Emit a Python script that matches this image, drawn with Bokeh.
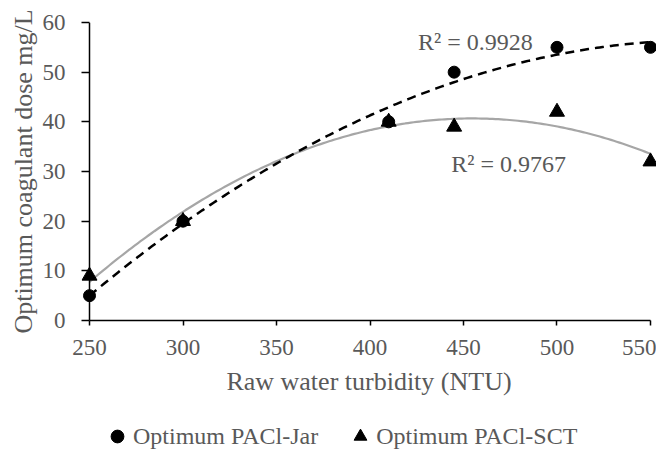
import numpy as np
from bokeh.plotting import figure
from bokeh.layouts import column
from bokeh.models import Range1d, SingleIntervalTicker, Legend, LegendItem, Label, ColumnDataSource, Span
from bokeh.embed import file_html
from bokeh.resources import INLINE

turbidity = [250, 300, 410, 445, 500, 550]
dose_jar = [5, 20, 40, 50, 55, 55]
dose_sct = [9, 20, 40, 39, 42, 32]
series_names = ["Optimum PACl-Jar", "Optimum PACl-SCT"]
r2_labels = ["R\u00b2 = 0.9928", "R\u00b2 = 0.9767"]
x_title = "Raw water turbidity (NTU)"
y_title = "Optimum coagulant dose mg/L"
x_axis_min, x_axis_max = 250, 550

FONT = "Liberation Serif"
GREY = "#595959"

p = figure(width=656, height=410, output_backend="svg", toolbar_location=None,
           x_range=Range1d(245.72, 553.21), y_range=Range1d(0, 60),
           min_border_left=81, min_border_right=0, min_border_top=22, min_border_bottom=90)
p.outline_line_color = None
p.xgrid.visible = False
p.ygrid.visible = False

# polynomial (order 2) trend lines fitted to the data
xs = np.linspace(min(turbidity), max(turbidity), 200)
cj = np.polyfit(turbidity, dose_jar, 2)
cs = np.polyfit(turbidity, dose_sct, 2)
p.line(xs, np.polyval(cs, xs), line_color="#A6A6A6", line_width=2.2)
p.line(xs, np.polyval(cj, xs), line_color="black", line_width=2.5, line_dash="9 6")

src = ColumnDataSource(dict(x=turbidity, jar=dose_jar, sct=dose_sct))
p.scatter("x", "jar", source=src, marker="circle", size=12, color="black")
p.scatter("x", "sct", source=src, marker="triangle", size=15, color="black")

p.add_layout(Label(x=456.4, y=56, text=r2_labels[0], text_font=FONT, text_font_size="24px",
                   text_color=GREY, text_align="center", text_baseline="middle"))
p.add_layout(Label(x=474.1, y=31.6, text=r2_labels[1], text_font=FONT, text_font_size="24px",
                   text_color=GREY, text_align="center", text_baseline="middle"))

# vertical axis line at the start of the x scale
p.add_layout(Span(location=x_axis_min, dimension="height", line_color="black", line_width=1.5))

for ax in (p.xaxis[0], p.yaxis[0]):
    ax.axis_line_color = "black"
    ax.axis_line_width = 1.5
    ax.major_tick_line_color = "black"
    ax.major_tick_line_width = 1.5
    ax.major_tick_in = 0
    ax.major_tick_out = 5
    ax.minor_tick_line_color = None
    ax.major_label_text_font = FONT
    ax.major_label_text_font_size = "23px"
    ax.major_label_text_color = GREY
    ax.axis_label_text_font = FONT
    ax.axis_label_text_font_size = "26px"
    ax.axis_label_text_color = GREY
    ax.axis_label_text_font_style = "normal"

p.xaxis.ticker = SingleIntervalTicker(interval=50)
p.yaxis.ticker = SingleIntervalTicker(interval=10)
p.xaxis.bounds = (x_axis_min, x_axis_max)
p.yaxis.axis_line_color = None
p.yaxis.major_tick_in = 8
p.yaxis.major_tick_out = 0
p.xaxis.axis_label = x_title
p.yaxis.axis_label = y_title
p.xaxis.major_label_standoff = 14
p.yaxis.major_label_standoff = 12
p.xaxis.axis_label_standoff = 9
p.yaxis.axis_label_standoff = 2

# legend strip below the chart
lg = figure(width=656, height=40, output_backend="svg", toolbar_location=None,
            x_range=Range1d(0, 1), y_range=Range1d(0, 1),
            x_axis_type=None, y_axis_type=None,
            min_border_left=0, min_border_right=0, min_border_top=0, min_border_bottom=0)
lg.outline_line_color = None
lg.xgrid.visible = False
lg.ygrid.visible = False
k1 = lg.scatter("x", "jar", source=src, marker="circle", size=12, color="black")
k2 = lg.scatter("x", "sct", source=src, marker="triangle", size=15, color="black")
legend = Legend(items=[LegendItem(label=series_names[0], renderers=[k1]),
                       LegendItem(label=series_names[1], renderers=[k2])],
                orientation="horizontal", location=(20, -2),
                glyph_width=32, glyph_height=32, label_standoff=-5, spacing=26,
                padding=0, margin=0, border_line_color=None, background_fill_alpha=0,
                label_text_font=FONT, label_text_font_size="24px", label_text_color=GREY)
lg.add_layout(legend, "center")

open("out.html", "w").write(file_html(column(p, lg, spacing=0), INLINE))
